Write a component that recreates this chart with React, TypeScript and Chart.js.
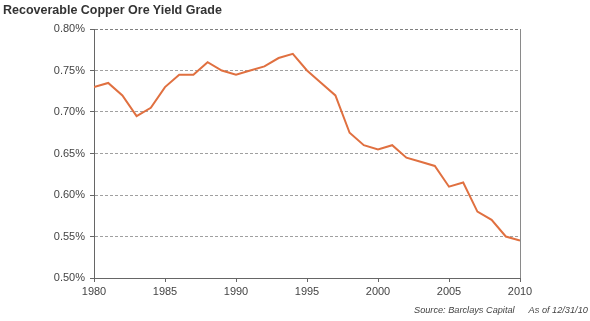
import React, { useEffect, useRef } from "react";
import { Chart, registerables } from "chart.js";

Chart.register(...registerables);

const years: number[] = [
  1980, 1981, 1982, 1983, 1984, 1985, 1986, 1987, 1988, 1989, 1990, 1991, 1992, 1993, 1994, 1995,
  1996, 1997, 1998, 1999, 2000, 2001, 2002, 2003, 2004, 2005, 2006, 2007, 2008, 2009, 2010,
];
const yieldGrade: number[] = [
  0.73, 0.735, 0.72, 0.695, 0.705, 0.73, 0.745, 0.745, 0.76, 0.75, 0.745, 0.75, 0.755, 0.765, 0.77, 0.75,
  0.735, 0.72, 0.675, 0.66, 0.655, 0.66, 0.645, 0.64, 0.635, 0.61, 0.615, 0.58, 0.57, 0.55, 0.545,
];
const titleText = "Recoverable Copper Ore Yield Grade";
const sourceText = "Source: Barclays Capital";
const asOfText = "As of 12/31/10";

const FONT = "'Liberation Sans', Arial, Helvetica, sans-serif";

export default function App() {
  const ref = useRef<HTMLCanvasElement | null>(null);

  useEffect(() => {
    document.body.style.margin = "0";
    const canvas = ref.current;
    if (!canvas) return;
    const rightBorder = {
      id: "rightBorder",
      afterDatasetsDraw(chart: any) {
        const { ctx, chartArea } = chart;
        ctx.save();
        ctx.strokeStyle = "#8a8a8a";
        ctx.lineWidth = 1;
        ctx.beginPath();
        ctx.moveTo(Math.round(chartArea.right) + 0.5, chartArea.top);
        ctx.lineTo(Math.round(chartArea.right) + 0.5, chartArea.bottom);
        ctx.stroke();
        ctx.restore();
      },
    };
    const chart = new Chart(canvas, {
      type: "line",
      data: {
        datasets: [
          {
            data: years.map((y, i) => ({ x: y, y: yieldGrade[i] })),
            borderColor: "#e07040",
            borderWidth: 2,
            pointRadius: 0,
            tension: 0,
            fill: false,
          },
        ],
      },
      plugins: [rightBorder],
      options: {
        animation: false,
        responsive: false,
        maintainAspectRatio: false,
        layout: { padding: { left: 0, right: 70, top: 29, bottom: 0 } },
        plugins: { legend: { display: false }, tooltip: { enabled: false } },
        scales: {
          x: {
            type: "linear",
            min: 1980,
            max: 2010,
            afterFit: (s: any) => {
              s.height = 43;
            },
            ticks: {
              stepSize: 5,
              callback: (v: any) => String(v),
              color: "#444",
              font: { family: FONT, size: 11 },
              padding: 3,
              maxRotation: 0,
            },
            grid: { drawOnChartArea: false, drawTicks: true, tickLength: 4, tickColor: "#666" },
            border: { color: "#666", width: 1 },
          },
          y: {
            min: 0.5,
            max: 0.8,
            afterFit: (s: any) => {
              s.width = 94;
            },
            ticks: {
              stepSize: 0.05,
              callback: (v: any) => Number(v).toFixed(2) + "%",
              color: "#444",
              font: { family: FONT, size: 11 },
              padding: 5,
            },
            grid: {
              color: (c: any) => (c.tick && Math.abs(c.tick.value - 0.8) < 1e-6 ? "#808080" : "#a0a0a0"),
              tickLength: 4,
              tickColor: "#666",
              tickBorderDash: [],
            } as any,
            border: { color: "#666", width: 1, dash: [3, 2] },
          },
        },
      } as any,
    });
    return () => chart.destroy();
  }, []);

  return (
    <div style={{ position: "relative", width: 590, height: 321, background: "#fff", overflow: "hidden" }}>
      <canvas ref={ref} width={590} height={321} style={{ position: "absolute", left: 0, top: 0 }} />
      <div
        style={{
          position: "absolute",
          left: 3,
          top: 3,
          fontFamily: FONT,
          fontWeight: "bold",
          fontSize: 12.5,
          color: "#333",
          whiteSpace: "nowrap",
        }}
      >
        {titleText}
      </div>
      <div
        style={{
          position: "absolute",
          left: 414,
          top: 305,
          fontFamily: FONT,
          fontStyle: "italic",
          fontSize: 9.2,
          color: "#444",
          whiteSpace: "nowrap",
        }}
      >
        {sourceText}
        <span style={{ marginLeft: 14 }}>{asOfText}</span>
      </div>
    </div>
  );
}
